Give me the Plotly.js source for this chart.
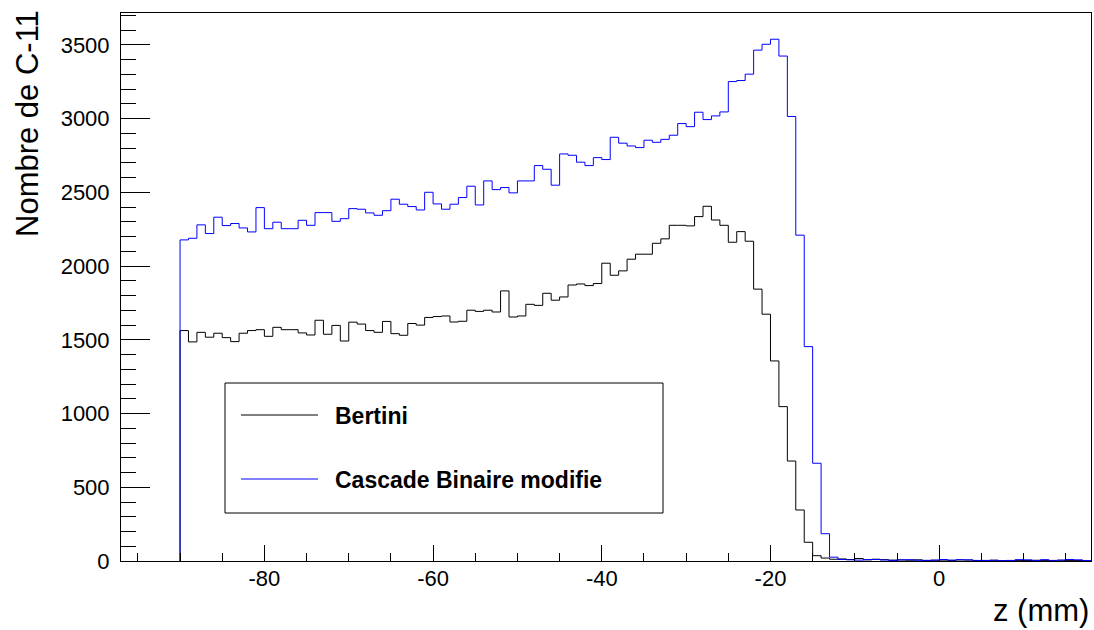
<!DOCTYPE html>
<html>
<head>
<meta charset="utf-8">
<script src="https://cdn.plot.ly/plotly-3.0.1.min.js"></script>
<style>
  html, body { margin: 0; padding: 0; background: #fff; }
  #chart { width: 1094px; height: 630px; }
</style>
</head>
<body>
<div id="chart"></div>
<script>
// Histogram binning (mm)
const binLow = -90;
const binWidth = 1;

// Bin contents, one per 1 mm bin starting at -90 mm
const bertini = [
  1563, 1486, 1551, 1518, 1545, 1515, 1488, 1545, 1563, 1569,
  1524, 1585, 1569, 1569, 1547, 1533, 1633, 1538, 1598, 1492,
  1620, 1607, 1563, 1551, 1625, 1542, 1531, 1611, 1600, 1652,
  1658, 1662, 1621, 1626, 1701, 1693, 1701, 1689, 1832, 1655,
  1662, 1741, 1734, 1816, 1769, 1791, 1872, 1879, 1868, 1882,
  2020, 1938, 1968, 2047, 2081, 2081, 2155, 2185, 2277, 2277,
  2273, 2336, 2406, 2313, 2277, 2162, 2234, 2169, 1844, 1674,
  1357, 1047, 678, 346, 127, 36, 20, 12, 14, 10,
  17, 8, 12, 9, 6, 7, 5, 8, 4, 5,
  6, 4, 7, 6, 3, 4, 5, 3, 4, 4,
  3, 5, 4, 3, 5, 4, 3, 2
];

const cascade = [
  2178, 2189, 2280, 2221, 2332, 2275, 2289, 2259, 2232, 2397,
  2254, 2298, 2254, 2254, 2311, 2277, 2363, 2363, 2304, 2322,
  2390, 2386, 2361, 2345, 2376, 2454, 2420, 2404, 2381, 2501,
  2422, 2386, 2420, 2465, 2542, 2415, 2578, 2519, 2533, 2497,
  2578, 2578, 2682, 2657, 2549, 2761, 2752, 2705, 2682, 2736,
  2723, 2874, 2834, 2815, 2804, 2854, 2840, 2860, 2888, 2967,
  2946, 3044, 2994, 3019, 3046, 3252, 3259, 3302, 3465, 3505,
  3539, 3425, 3015, 2210, 1454, 663, 185, 26, 10, 8,
  6, 9, 10, 7, 4, 8, 9, 5, 4, 6,
  10, 6, 9, 8, 4, 3, 5, 3, 3, 9,
  8, 3, 9, 4, 6, 10, 8, 3
];

const seriesNames = ["Bertini", "Cascade Binaire modifie"];
const seriesColors = ["#000000", "#0000ff"];
const xTickVals = [-80, -60, -40, -20, 0];
const xTickLabels = ["-80", "-60", "-40", "-20", "0"];
const xTitle = "z (mm)";
const yTitle = "Nombre de C-11";

// Build a step outline (ROOT "HIST" style) from bin contents
function stepPath(values) {
  const xs = [binLow];
  const ys = [0];
  for (let i = 0; i < values.length; i++) {
    xs.push(binLow + i * binWidth);
    ys.push(values[i]);
  }
  xs.push(binLow + values.length * binWidth);
  ys.push(values[values.length - 1]);
  return { xs, ys };
}

const FONT = "Liberation Sans, Arial, Helvetica, sans-serif";
const traces = [bertini, cascade].map((vals, k) => {
  const p = stepPath(vals);
  return {
    type: "scatter",
    mode: "lines",
    x: p.xs,
    y: p.ys,
    name: seriesNames[k],
    line: { color: seriesColors[k], width: 1, shape: "hv" },
    hoverinfo: "skip",
    showlegend: false
  };
});

const L = 121, R = 3, T = 13, B = 69;
const W = 1094, H = 630;
const pw = W - L - R, ph = H - T - B;
const px = (x) => (x - L) / pw;          // pixel -> paper x
const py = (y) => (H - B - y) / ph;      // pixel -> paper y

const layout = {
  width: W,
  height: H,
  margin: { l: L, r: R, t: T, b: B, pad: 0 },
  paper_bgcolor: "#ffffff",
  plot_bgcolor: "#ffffff",
  font: { family: FONT, color: "#000000" },
  xaxis: {
    range: [-97, 18],
    showgrid: false,
    zeroline: false,
    showline: true,
    mirror: true,
    linecolor: "#000000",
    linewidth: 1,
    ticks: "inside",
    tickmode: "array",
    tickvals: xTickVals,
    ticktext: xTickLabels,
    ticklen: 16,
    tickwidth: 1,
    tickcolor: "#000000",
    tickfont: { family: FONT, size: 22, color: "#000000" },
    ticklabelstandoff: -2,
    minor: { ticks: "inside", dtick: 5, tick0: 0, ticklen: 8, tickwidth: 1, tickcolor: "#000000", showgrid: false }
  },
  yaxis: {
    range: [0, 3717],
    showgrid: false,
    zeroline: false,
    showline: true,
    mirror: true,
    linecolor: "#000000",
    linewidth: 1,
    ticks: "inside",
    tick0: 0,
    dtick: 500,
    ticklen: 29,
    tickwidth: 1,
    tickcolor: "#000000",
    tickfont: { family: FONT, size: 22, color: "#000000" },
    ticklabelstandoff: 6,
    minor: { ticks: "inside", dtick: 100, tick0: 0, ticklen: 15, tickwidth: 1, tickcolor: "#000000", showgrid: false }
  },
  shapes: [
    { type: "rect", xref: "paper", yref: "paper",
      x0: px(225), x1: px(663), y0: py(513), y1: py(383),
      line: { color: "#000000", width: 1 }, fillcolor: "#ffffff", layer: "above" },
    { type: "line", xref: "paper", yref: "paper",
      x0: px(241), x1: px(318), y0: py(415), y1: py(415),
      line: { color: seriesColors[0], width: 1 }, layer: "above" },
    { type: "line", xref: "paper", yref: "paper",
      x0: px(241), x1: px(318), y0: py(479), y1: py(479),
      line: { color: seriesColors[1], width: 1 }, layer: "above" }
  ],
  annotations: [
    { xref: "paper", yref: "paper", x: px(333), y: py(416), xanchor: "left", yanchor: "middle",
      text: "<b>" + seriesNames[0] + "</b>", showarrow: false,
      font: { family: FONT, size: 23, color: "#000000" } },
    { xref: "paper", yref: "paper", x: px(333), y: py(480), xanchor: "left", yanchor: "middle",
      text: "<b>" + seriesNames[1] + "</b>", showarrow: false,
      font: { family: FONT, size: 23, color: "#000000" } },
    { xref: "paper", yref: "paper", x: px(1091), y: py(610), xanchor: "right", yanchor: "middle",
      text: xTitle, showarrow: false,
      font: { family: FONT, size: 31, color: "#000000" } },
    { xref: "paper", yref: "paper", x: px(27), y: py(124), xanchor: "center", yanchor: "middle",
      text: yTitle, textangle: -90, showarrow: false,
      font: { family: FONT, size: 31, color: "#000000" } }
  ]
};

Plotly.newPlot("chart", traces, layout, { displayModeBar: false, staticPlot: true });
</script>
</body>
</html>
